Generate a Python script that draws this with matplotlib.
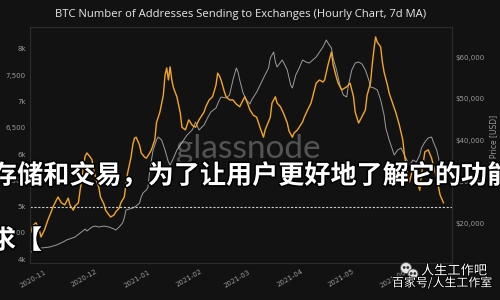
import matplotlib
matplotlib.use("Agg")
import matplotlib.pyplot as plt
import matplotlib.dates as mdates
import matplotlib.patheffects as pe
from matplotlib.patches import Circle
import pandas as pd

# --- data --------------------------------------------------------------------
orange_dates = [
    "2020-10-24", "2020-10-25", "2020-10-27", "2020-10-29", "2020-10-30", "2020-11-01",
    "2020-11-03", "2020-11-05", "2020-11-06", "2020-11-08", "2020-11-09", "2020-11-11",
    "2020-11-13", "2020-11-15", "2020-11-16", "2020-11-18", "2020-11-19", "2020-11-21",
    "2020-11-22", "2020-11-23", "2020-11-24", "2020-11-25", "2020-11-26", "2020-11-28",
    "2020-11-29", "2020-11-30", "2020-12-02", "2020-12-03", "2020-12-04", "2020-12-06",
    "2020-12-07", "2020-12-09", "2020-12-10", "2020-12-12", "2020-12-13", "2020-12-15",
    "2020-12-16", "2020-12-18", "2020-12-19", "2020-12-20", "2020-12-21", "2020-12-22",
    "2020-12-23", "2020-12-24", "2020-12-25", "2020-12-27", "2020-12-28", "2020-12-30",
    "2020-12-31", "2021-01-02", "2021-01-03", "2021-01-05", "2021-01-06", "2021-01-08",
    "2021-01-10", "2021-01-11", "2021-01-12", "2021-01-13", "2021-01-14", "2021-01-15",
    "2021-01-16", "2021-01-18", "2021-01-20", "2021-01-21", "2021-01-23", "2021-01-25",
    "2021-01-27", "2021-01-29", "2021-01-31", "2021-02-03", "2021-02-04", "2021-02-06",
    "2021-02-08", "2021-02-10", "2021-02-11", "2021-02-12", "2021-02-13", "2021-02-15",
    "2021-02-16", "2021-02-18", "2021-02-20", "2021-02-22", "2021-02-24", "2021-02-26",
    "2021-02-27", "2021-03-01", "2021-03-02", "2021-03-04", "2021-03-06", "2021-03-08",
    "2021-03-10", "2021-03-11", "2021-03-14", "2021-03-15", "2021-03-17", "2021-03-18",
    "2021-03-20", "2021-03-22", "2021-03-24", "2021-03-25", "2021-03-27", "2021-03-28",
    "2021-03-30", "2021-04-02", "2021-04-03", "2021-04-05", "2021-04-07", "2021-04-09",
    "2021-04-10", "2021-04-12", "2021-04-14", "2021-04-15", "2021-04-17", "2021-04-19",
    "2021-04-20", "2021-04-22", "2021-04-23", "2021-04-25", "2021-04-27", "2021-04-28",
    "2021-04-30", "2021-05-02", "2021-05-03", "2021-05-05", "2021-05-06", "2021-05-09",
    "2021-05-10", "2021-05-12", "2021-05-13", "2021-05-14", "2021-05-15", "2021-05-16",
    "2021-05-18", "2021-05-19", "2021-05-20", "2021-05-22", "2021-05-23", "2021-05-25",
    "2021-05-27", "2021-05-29", "2021-05-31", "2021-06-01", "2021-06-03", "2021-06-04",
    "2021-06-06", "2021-06-08", "2021-06-10", "2021-06-11", "2021-06-13", "2021-06-15",
    "2021-06-17", "2021-06-18", "2021-06-20", "2021-06-22", "2021-06-24",
]
addresses = [
    4510, 4630, 4690, 4550, 4420, 4550,
    4740, 4900, 4990, 5120, 5180, 5070,
    5030, 5160, 5030, 4930, 5010, 5070,
    5310, 5500, 5790, 5960, 6020, 5940,
    5890, 5700, 5450, 5370, 5180, 5050,
    4930, 4840, 4800, 4840, 4900, 4970,
    5070, 5180, 5410, 5640, 5790, 5940,
    6170, 6300, 6320, 6170, 6020, 5940,
    5920, 6020, 6080, 6270, 6600, 6800,
    7120, 7500, 7640, 7410, 7660, 7410,
    7260, 7090, 6780, 6510, 6460, 6650,
    6550, 6510, 6650, 6800, 6900, 7030,
    7090, 7310, 7540, 7490, 7410, 7180,
    7090, 7030, 7030, 6950, 6900, 7030,
    7090, 6930, 6840, 6740, 6700, 6500,
    6320, 6460, 6700, 6970, 7090, 6970,
    6900, 6760, 6590, 6440, 6320, 6400,
    6460, 6610, 6700, 6840, 6970, 7220,
    7350, 7410, 7370, 7410, 7700, 7940,
    7700, 7450, 7350, 7220, 7260, 7280,
    7350, 7090, 6800, 6590, 6650, 6840,
    7120, 7350, 7700, 7980, 8230, 8130,
    8040, 7750, 7560, 7310, 7160, 6970,
    6780, 6550, 6270, 5980, 5600, 5470,
    5730, 5540, 5310, 5600, 6040, 6080,
    5920, 5790, 5540, 5220, 5070,
]

price_dates = [
    "2020-10-24", "2020-10-27", "2020-10-30", "2020-11-04", "2020-11-08", "2020-11-12",
    "2020-11-14", "2020-11-19", "2020-11-22", "2020-11-25", "2020-11-26", "2020-11-29",
    "2020-12-01", "2020-12-03", "2020-12-06", "2020-12-09", "2020-12-12", "2020-12-13",
    "2020-12-15", "2020-12-17", "2020-12-18", "2020-12-19", "2020-12-21", "2020-12-23",
    "2020-12-25", "2020-12-27", "2020-12-28", "2020-12-29", "2020-12-31", "2021-01-01",
    "2021-01-02", "2021-01-04", "2021-01-06", "2021-01-07", "2021-01-09", "2021-01-11",
    "2021-01-13", "2021-01-14", "2021-01-16", "2021-01-18", "2021-01-20", "2021-01-22",
    "2021-01-24", "2021-01-27", "2021-01-29", "2021-01-31", "2021-02-03", "2021-02-05",
    "2021-02-07", "2021-02-10", "2021-02-12", "2021-02-13", "2021-02-16", "2021-02-18",
    "2021-02-20", "2021-02-22", "2021-02-23", "2021-02-24", "2021-02-26", "2021-02-28",
    "2021-03-02", "2021-03-03", "2021-03-06", "2021-03-08", "2021-03-10", "2021-03-13",
    "2021-03-14", "2021-03-16", "2021-03-17", "2021-03-18", "2021-03-21", "2021-03-22",
    "2021-03-24", "2021-03-26", "2021-03-27", "2021-03-29", "2021-03-31", "2021-04-02",
    "2021-04-04", "2021-04-06", "2021-04-08", "2021-04-10", "2021-04-12", "2021-04-14",
    "2021-04-16", "2021-04-17", "2021-04-19", "2021-04-20", "2021-04-22", "2021-04-24",
    "2021-04-26", "2021-04-28", "2021-04-29", "2021-05-01", "2021-05-03", "2021-05-05",
    "2021-05-07", "2021-05-09", "2021-05-11", "2021-05-12", "2021-05-14", "2021-05-16",
    "2021-05-18", "2021-05-20", "2021-05-21", "2021-05-23", "2021-05-25", "2021-05-26",
    "2021-05-28", "2021-05-30", "2021-06-01", "2021-06-03", "2021-06-04", "2021-06-06",
    "2021-06-08", "2021-06-10", "2021-06-11", "2021-06-13", "2021-06-15", "2021-06-17",
    "2021-06-18", "2021-06-20", "2021-06-22", "2021-06-24",
]
btc_price = [
    13000, 13490, 13970, 14210, 14690, 15420,
    15900, 16620, 17580, 18550, 18070, 19030,
    19270, 19030, 19270, 19030, 18550, 18310,
    19030, 20000, 21200, 23130, 23370, 23610,
    24090, 24810, 26260, 27220, 27950, 28670,
    32770, 37590, 40000, 40720, 40000, 37590,
    34700, 33970, 35660, 37590, 38790, 40000,
    41200, 42410, 44340, 42410, 43610, 45300,
    46740, 47710, 49640, 50360, 50120, 50840,
    54460, 57350, 56390, 54460, 51320, 49640,
    48670, 49640, 51570, 53250, 54940, 57350,
    59760, 61210, 58800, 57590, 59280, 58550,
    56870, 53250, 52530, 55660, 57350, 59280,
    58800, 58550, 59280, 60000, 61210, 62410,
    64100, 63370, 62170, 59760, 56870, 53250,
    50840, 50360, 53250, 56870, 58550, 58800,
    58310, 56870, 54460, 52770, 52530, 52050,
    49640, 46020, 42890, 40000, 37590, 36380,
    37590, 38070, 36380, 34700, 33970, 35180,
    34700, 36380, 38070, 39520, 40480, 40720,
    39520, 37590, 33970, 32280,
]

ref_level = 5000
left_ticks = [4000, 4500, 5000, 5500, 6000, 6500, 7000, 7500, 8000]
left_labels = ["4k", "4,500", "5k", "5,500", "6k", "6,500", "7k", "7,500", "8k"]
right_ticks = [20000, 30000, 40000, 50000, 60000]
right_labels = ["$20,000", "$30,000", "$40,000", "$50,000", "$60,000"]

BG = "#121212"
ORANGE = "#f5a524"
GREY = "#9c9c9c"
TICK = "#9a9a9a"

fig = plt.figure(figsize=(5, 3), dpi=100, facecolor=BG)
ax = fig.add_axes([0.06, 0.1233, 0.844, 0.7867])
ax2 = ax.twinx()
ax.set_zorder(ax2.get_zorder() + 1)
ax.patch.set_visible(False)
ax2.patch.set_facecolor(BG)

od = pd.to_datetime(orange_dates)
pdt = pd.to_datetime(price_dates)
ax2.plot(pdt, btc_price, color=GREY, lw=0.7)
ax.plot(od, addresses, color=ORANGE, lw=1.0)
ax.axhline(ref_level, color="#cfcfcf", lw=0.8, ls=(0, (2.0, 1.5)))

ax.set_xlim(pd.Timestamp("2020-10-23 12:00"), pd.Timestamp("2021-06-29"))
ax.set_ylim(3924, 8419)
ax2.set_ylim(10361, 67229)

ax.set_yticks(left_ticks, labels=left_labels)
ax2.set_yticks(right_ticks, labels=right_labels)
ax.xaxis.set_major_locator(mdates.MonthLocator())
ax.xaxis.set_major_formatter(mdates.DateFormatter("%Y-%m"))

ax.tick_params(axis="y", length=0, pad=3, labelsize=5, labelcolor=TICK)
ax2.tick_params(axis="y", length=0, pad=2.5, labelsize=5, labelcolor=TICK)
ax.tick_params(axis="x", length=0, pad=4, labelsize=5, labelcolor=TICK)
for lab in ax.get_xticklabels():
    lab.set_rotation(30)
    lab.set_ha("right")
    lab.set_rotation_mode("anchor")
ax2.set_ylabel("BTC Price [USD]", color=TICK, fontsize=5.5, labelpad=3)

for a in (ax, ax2):
    for s in a.spines.values():
        s.set_color("#2c2c2c")
        s.set_linewidth(0.8)

fig.text(0.482, 0.95, "BTC Number of Addresses Sending to Exchanges (Hourly Chart, 7d MA)",
         ha="center", va="center", color="#e8e8e8", fontsize=8.1, family="Open Sans")

# overlay layer in pixel coordinates for the watermarks / stamped text
ov = fig.add_axes([0, 0, 1, 1], zorder=10)
ov.set_xlim(0, 500)
ov.set_ylim(300, 0)
ov.axis("off")
ov.patch.set_visible(False)

ov.text(248, 149, "glassnode", ha="center", va="center", fontsize=24,
        family="Lato", color="#ffffff", alpha=0.28)

cjk = ["Noto Sans CJK SC", "DejaVu Sans"]
stroke = [pe.withStroke(linewidth=2.2, foreground="#000000")]
ov.text(-9, 176, "存储和交易，为了让用户更好地了解它的功能", ha="left", va="center",
        fontsize=18.8, family=cjk, weight="heavy", color="white", path_effects=stroke)
ov.text(-10, 241, "求【", ha="left", va="center", fontsize=18.8, family=cjk,
        weight="heavy", color="white", path_effects=stroke)

# wechat-style badge
for cx, cy, r in [(406, 268, 5.5), (413, 274, 5.0)]:
    ov.add_patch(Circle((cx, cy), r, facecolor="#e6e6e6", edgecolor="#555555", lw=0.6))
    ov.add_patch(Circle((cx - 1.8, cy - 0.5), 0.7, color="#333333"))
    ov.add_patch(Circle((cx + 1.8, cy - 0.5), 0.7, color="#333333"))
wm = [pe.withStroke(linewidth=1.2, foreground="#000000")]
ov.text(421, 271, "人生工作吧", ha="left", va="center", fontsize=9.5, family=cjk,
        color="white", path_effects=wm)
ov.text(392, 283, "百家号/人生工作室", ha="left", va="center", fontsize=8.6, family=cjk,
        color="white", path_effects=wm)

fig.savefig("out.png", dpi=100, facecolor=BG)
